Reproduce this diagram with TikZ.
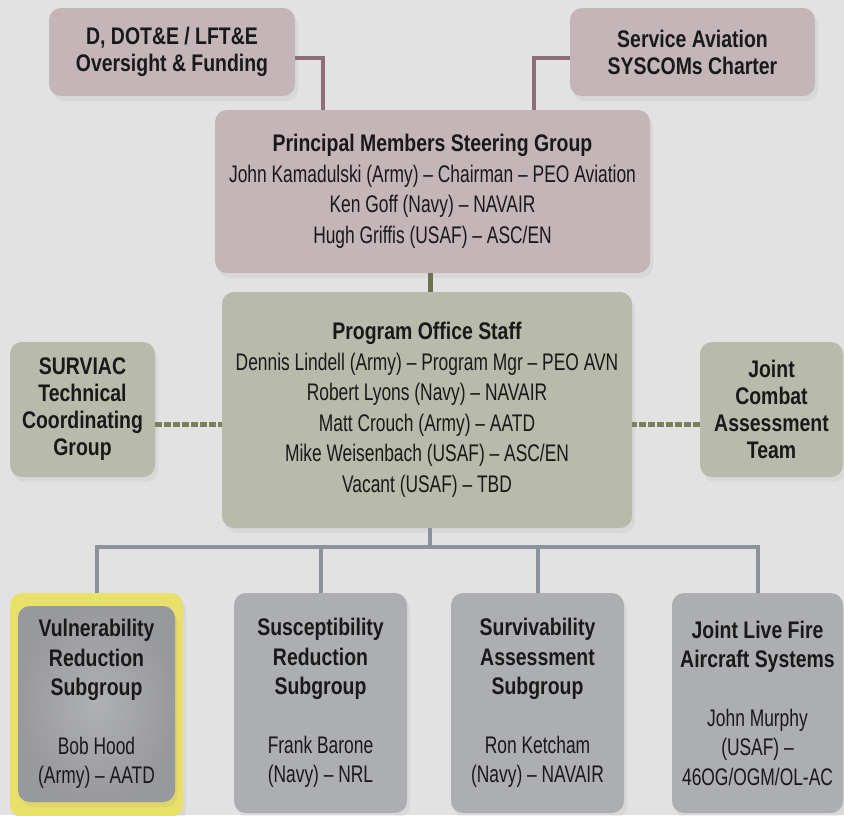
\documentclass[tikz,border=0pt]{standalone}
\usepackage{fontspec}
\setmainfont{Liberation Sans}[FakeStretch=0.725, BoldFeatures={FakeStretch=0.81}]
\usetikzlibrary{shadows}

\definecolor{bgGray}{HTML}{E2E2E2}
\definecolor{mauveBox}{HTML}{C4B5B8}
\definecolor{mauveLine}{HTML}{8E6F79}
\definecolor{oliveBox}{HTML}{B8BAAB}
\definecolor{oliveLine}{HTML}{6E7150}
\definecolor{oliveDash}{HTML}{7B7F5A}
\definecolor{grayBox}{HTML}{ADAEB2}
\definecolor{busLine}{HTML}{8A929C}
\definecolor{hiYellow}{HTML}{E9E06A}

\begin{document}
\begin{tikzpicture}[x=1pt, y=-1pt,
    box/.style={rectangle, rounded corners=12pt, align=center, inner sep=0pt,
        text=black!90, font=\fontsize{24}{30.5}\selectfont,
        drop shadow={opacity=0.10, shadow xshift=3pt, shadow yshift=-5pt}},
    topbox/.style={box, fill=mauveBox, font=\fontsize{24}{27}\selectfont\bfseries},
    sidebox/.style={box, fill=oliveBox, font=\fontsize{24}{27}\selectfont\bfseries},
    subbox/.style={box, fill=grayBox, font=\fontsize{24}{29.4}\selectfont,
        minimum width=173pt, minimum height=220pt},
    reports/.style={line width=4pt, draw=mauveLine},
    liaison/.style={line width=5pt, draw=oliveDash, dash pattern=on 7pt off 2pt},
    bus/.style={line width=4pt, draw=busLine}]

% background
\fill[bgGray] (0,0) rectangle (844,815);
\useasboundingbox (0,0) rectangle (844,815);

% top level
\node[topbox, minimum width=246pt, minimum height=88pt] (dote) at (172,52)
    {D, DOT\&E / LFT\&E\\Oversight \& Funding};
\node[topbox, minimum width=245pt, minimum height=88pt] (syscom) at (692.5,52)
    {Service Aviation\\SYSCOMs Charter};
\node[box, fill=mauveBox, minimum width=435pt, minimum height=163pt] (pmsg) at (432.5,191.5)
    {\textbf{Principal Members Steering Group}\\
     John Kamadulski (Army) – Chairman – PEO Aviation\\
     Ken Goff (Navy) – NAVAIR\\
     Hugh Griffis (USAF) – ASC/EN};

% program office and liaisons
\node[box, fill=oliveBox, minimum width=410pt, minimum height=236pt] (pos) at (427,410)
    {\textbf{Program Office Staff}\\
     Dennis Lindell (Army) – Program Mgr – PEO AVN\\
     Robert Lyons (Navy) – NAVAIR\\
     Matt Crouch (Army) – AATD\\
     Mike Weisenbach (USAF) – ASC/EN\\
     Vacant (USAF) – TBD};
\node[sidebox, minimum width=145pt, minimum height=135pt] (surviac) at (82.5,409.5)
    {SURVIAC\\Technical\\Coordinating\\Group};
\node[sidebox, minimum width=143pt, minimum height=135pt] (jcat) at (771.5,409.5)
    {Joint\\Combat\\Assessment\\Team};

% subgroups
\node[box, fill=hiYellow, minimum width=173pt, minimum height=224pt] (vrs) at (96.5,705) {};
\node[subbox, minimum width=157pt, minimum height=196pt, drop shadow={opacity=0},
    inner color=grayBox!97!white, outer color=grayBox!88!black] (vrsin) at (96.5,704)
    {\textbf{Vulnerability}\\\textbf{Reduction}\\\textbf{Subgroup}\\[29.4pt]
     Bob Hood\\(Army) – AATD};
\node[subbox] (srs) at (320.5,703)
    {\textbf{Susceptibility}\\\textbf{Reduction}\\\textbf{Subgroup}\\[29.4pt]
     Frank Barone\\(Navy) – NRL};
\node[subbox] (sas) at (537.5,703)
    {\textbf{Survivability}\\\textbf{Assessment}\\\textbf{Subgroup}\\[29.4pt]
     Ron Ketcham\\(Navy) – NAVAIR};
\node[subbox, minimum width=171pt] (jlf) at (757.5,703)
    {\textbf{Joint Live Fire}\\\textbf{Aircraft Systems}\\[29.4pt]
     John Murphy\\(USAF) –\\46OG/OGM/OL-AC};

% connectors
\draw[reports] ([yshift=-6pt]dote.east) -| ([xshift=-109.5pt]pmsg.north);
\draw[reports] ([yshift=-6pt]syscom.west) -| ([xshift=101.5pt]pmsg.north);
\draw[line width=5pt, draw=oliveLine] ([xshift=-2.5pt]pmsg.south) -- ([xshift=-2.5pt]pmsg.south |- pos.north);
\draw[liaison] ([yshift=-15pt]surviac.east) -- ([yshift=-15pt]surviac.east -| pos.west);
\draw[liaison] ([yshift=-15pt]jcat.west) -- ([yshift=-15pt]jcat.west -| pos.east);

\coordinate (hub) at (430,547);
\draw[bus] ([xshift=3pt]pos.south) -- ([xshift=3pt]pos.south |- hub);
\draw[bus] (vrs.north) |- (jlf.north |- hub) -- (jlf.north);
\foreach \g in {srs,sas}
    \draw[bus] (\g.north |- hub) -- (\g.north);
\end{tikzpicture}
\end{document}
